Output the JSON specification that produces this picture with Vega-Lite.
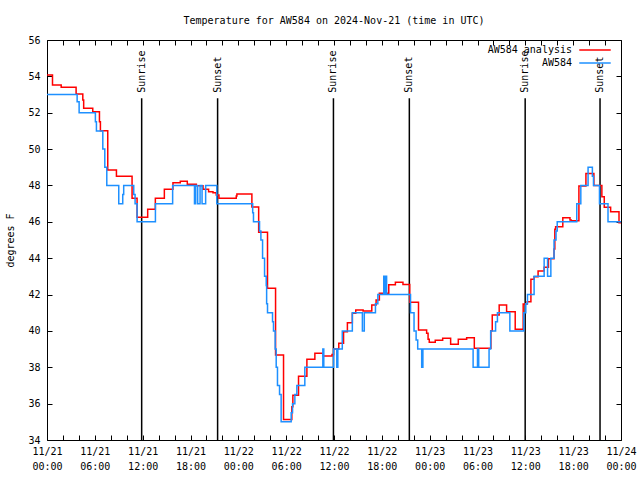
{
  "$schema": "https://vega.github.io/schema/vega-lite/v6.json",
  "width": 574,
  "height": 400,
  "autosize": {"type": "none"},
  "padding": {"left": 47, "top": 40, "right": 19, "bottom": 40},
  "background": "white",
  "title": {"text": "Temperature for AW584 on 2024-Nov-21 (time in UTC)", "font": "DejaVu Sans Mono", "fontSize": 10, "fontWeight": "normal", "color": "black", "offset": 9, "anchor": "middle"},
  "config": {
    "view": {"stroke": "black", "strokeWidth": 1},
    "font": "DejaVu Sans Mono",
    "axis": {"domain": false, "grid": false, "tickColor": "black", "tickWidth": 1, "tickSize": -5, "labelFont": "DejaVu Sans Mono", "labelFontSize": 10, "labelColor": "black", "titleFont": "DejaVu Sans Mono", "titleFontSize": 10, "titleFontWeight": "normal", "titleColor": "black", "labelOverlap": false, "labelFlush": false},
    "legend": {"orient": "none", "legendX": 542, "legendY": 4, "symbolType": "M-3,0H3", "symbolStrokeWidth": 1.5, "symbolSize": 110, "labelFont": "DejaVu Sans Mono", "labelFontSize": 10, "labelColor": "black", "labelAlign": "right", "labelOffset": -29, "rowPadding": 2, "padding": 0}
  },
  "datasets": {
    "analysis": [
      {"hour": 0, "temp": 54.07, "series": "AW584 analysis"},
      {"hour": 0.69, "temp": 53.52, "series": "AW584 analysis"},
      {"hour": 1.78, "temp": 53.4, "series": "AW584 analysis"},
      {"hour": 3.65, "temp": 53.03, "series": "AW584 analysis"},
      {"hour": 4.49, "temp": 52.7, "series": "AW584 analysis"},
      {"hour": 4.6, "temp": 52.24, "series": "AW584 analysis"},
      {"hour": 5.74, "temp": 52.06, "series": "AW584 analysis"},
      {"hour": 6.58, "temp": 51.5, "series": "AW584 analysis"},
      {"hour": 6.7, "temp": 51.01, "series": "AW584 analysis"},
      {"hour": 7.62, "temp": 48.85, "series": "AW584 analysis"},
      {"hour": 8.71, "temp": 48.5, "series": "AW584 analysis"},
      {"hour": 10.67, "temp": 47.3, "series": "AW584 analysis"},
      {"hour": 11.3, "temp": 46.25, "series": "AW584 analysis"},
      {"hour": 12.63, "temp": 46.69, "series": "AW584 analysis"},
      {"hour": 13.59, "temp": 47.29, "series": "AW584 analysis"},
      {"hour": 14.72, "temp": 47.79, "series": "AW584 analysis"},
      {"hour": 15.8, "temp": 48.15, "series": "AW584 analysis"},
      {"hour": 16.72, "temp": 48.23, "series": "AW584 analysis"},
      {"hour": 17.6, "temp": 48.06, "series": "AW584 analysis"},
      {"hour": 18.73, "temp": 47.99, "series": "AW584 analysis"},
      {"hour": 19.57, "temp": 47.79, "series": "AW584 analysis"},
      {"hour": 20.27, "temp": 47.66, "series": "AW584 analysis"},
      {"hour": 20.82, "temp": 47.6, "series": "AW584 analysis"},
      {"hour": 21.23, "temp": 47.47, "series": "AW584 analysis"},
      {"hour": 21.57, "temp": 47.29, "series": "AW584 analysis"},
      {"hour": 23.74, "temp": 47.42, "series": "AW584 analysis"},
      {"hour": 23.82, "temp": 47.53, "series": "AW584 analysis"},
      {"hour": 25.7, "temp": 46.82, "series": "AW584 analysis"},
      {"hour": 26.55, "temp": 45.42, "series": "AW584 analysis"},
      {"hour": 27.66, "temp": 42.34, "series": "AW584 analysis"},
      {"hour": 28.67, "temp": 38.67, "series": "AW584 analysis"},
      {"hour": 29.67, "temp": 35.13, "series": "AW584 analysis"},
      {"hour": 30.71, "temp": 35.83, "series": "AW584 analysis"},
      {"hour": 30.84, "temp": 36.46, "series": "AW584 analysis"},
      {"hour": 31.55, "temp": 37.5, "series": "AW584 analysis"},
      {"hour": 32.6, "temp": 38.44, "series": "AW584 analysis"},
      {"hour": 33.6, "temp": 38.77, "series": "AW584 analysis"},
      {"hour": 34.65, "temp": 38.62, "series": "AW584 analysis"},
      {"hour": 35.75, "temp": 38.7, "series": "AW584 analysis"},
      {"hour": 35.95, "temp": 39.0, "series": "AW584 analysis"},
      {"hour": 36.6, "temp": 39.32, "series": "AW584 analysis"},
      {"hour": 37.2, "temp": 39.96, "series": "AW584 analysis"},
      {"hour": 37.68, "temp": 40.45, "series": "AW584 analysis"},
      {"hour": 38.3, "temp": 40.97, "series": "AW584 analysis"},
      {"hour": 38.73, "temp": 41.15, "series": "AW584 analysis"},
      {"hour": 39.65, "temp": 41.1, "series": "AW584 analysis"},
      {"hour": 40.74, "temp": 41.42, "series": "AW584 analysis"},
      {"hour": 41.28, "temp": 41.7, "series": "AW584 analysis"},
      {"hour": 41.69, "temp": 42.07, "series": "AW584 analysis"},
      {"hour": 42.87, "temp": 42.54, "series": "AW584 analysis"},
      {"hour": 43.7, "temp": 42.67, "series": "AW584 analysis"},
      {"hour": 44.65, "temp": 42.55, "series": "AW584 analysis"},
      {"hour": 45.5, "temp": 41.57, "series": "AW584 analysis"},
      {"hour": 46.6, "temp": 40.05, "series": "AW584 analysis"},
      {"hour": 47.62, "temp": 39.87, "series": "AW584 analysis"},
      {"hour": 47.8, "temp": 39.54, "series": "AW584 analysis"},
      {"hour": 47.95, "temp": 39.37, "series": "AW584 analysis"},
      {"hour": 48.7, "temp": 39.48, "series": "AW584 analysis"},
      {"hour": 49.63, "temp": 39.59, "series": "AW584 analysis"},
      {"hour": 50.63, "temp": 39.26, "series": "AW584 analysis"},
      {"hour": 51.59, "temp": 39.54, "series": "AW584 analysis"},
      {"hour": 52.64, "temp": 39.63, "series": "AW584 analysis"},
      {"hour": 53.6, "temp": 39.04, "series": "AW584 analysis"},
      {"hour": 55.68, "temp": 40.01, "series": "AW584 analysis"},
      {"hour": 55.85, "temp": 40.87, "series": "AW584 analysis"},
      {"hour": 56.72, "temp": 41.42, "series": "AW584 analysis"},
      {"hour": 57.65, "temp": 41.06, "series": "AW584 analysis"},
      {"hour": 58.73, "temp": 40.09, "series": "AW584 analysis"},
      {"hour": 59.73, "temp": 41.48, "series": "AW584 analysis"},
      {"hour": 60.23, "temp": 41.61, "series": "AW584 analysis"},
      {"hour": 60.7, "temp": 42.84, "series": "AW584 analysis"},
      {"hour": 61.1, "temp": 42.98, "series": "AW584 analysis"},
      {"hour": 61.6, "temp": 43.29, "series": "AW584 analysis"},
      {"hour": 62.36, "temp": 43.5, "series": "AW584 analysis"},
      {"hour": 62.9, "temp": 43.97, "series": "AW584 analysis"},
      {"hour": 63.6, "temp": 44.5, "series": "AW584 analysis"},
      {"hour": 63.7, "temp": 45.59, "series": "AW584 analysis"},
      {"hour": 63.8, "temp": 45.73, "series": "AW584 analysis"},
      {"hour": 64.7, "temp": 46.23, "series": "AW584 analysis"},
      {"hour": 65.6, "temp": 46.1, "series": "AW584 analysis"},
      {"hour": 65.75, "temp": 46.06, "series": "AW584 analysis"},
      {"hour": 66.72, "temp": 47.97, "series": "AW584 analysis"},
      {"hour": 67.6, "temp": 48.66, "series": "AW584 analysis"},
      {"hour": 68.6, "temp": 48.0, "series": "AW584 analysis"},
      {"hour": 69.6, "temp": 47.38, "series": "AW584 analysis"},
      {"hour": 69.9, "temp": 46.8, "series": "AW584 analysis"},
      {"hour": 70.7, "temp": 46.55, "series": "AW584 analysis"},
      {"hour": 71.75, "temp": 45.95, "series": "AW584 analysis"},
      {"hour": 72, "temp": 45.95, "series": "AW584 analysis"}
    ],
    "observed": [
      {"hour": 0, "temp": 53, "series": "AW584"},
      {"hour": 3.78, "temp": 52.6, "series": "AW584"},
      {"hour": 4.03, "temp": 52, "series": "AW584"},
      {"hour": 6.07, "temp": 51.5, "series": "AW584"},
      {"hour": 6.2, "temp": 51, "series": "AW584"},
      {"hour": 7.0, "temp": 50, "series": "AW584"},
      {"hour": 7.25, "temp": 49, "series": "AW584"},
      {"hour": 7.5, "temp": 48, "series": "AW584"},
      {"hour": 9.0, "temp": 47, "series": "AW584"},
      {"hour": 9.5, "temp": 47.5, "series": "AW584"},
      {"hour": 9.62, "temp": 48, "series": "AW584"},
      {"hour": 10.88, "temp": 47.5, "series": "AW584"},
      {"hour": 11.05, "temp": 47, "series": "AW584"},
      {"hour": 11.3, "temp": 46, "series": "AW584"},
      {"hour": 13.6, "temp": 47, "series": "AW584"},
      {"hour": 15.76, "temp": 48, "series": "AW584"},
      {"hour": 18.5, "temp": 47, "series": "AW584"},
      {"hour": 18.65, "temp": 48, "series": "AW584"},
      {"hour": 18.9, "temp": 47, "series": "AW584"},
      {"hour": 19.2, "temp": 48, "series": "AW584"},
      {"hour": 19.45, "temp": 47, "series": "AW584"},
      {"hour": 19.9, "temp": 48, "series": "AW584"},
      {"hour": 21.3, "temp": 47, "series": "AW584"},
      {"hour": 25.8, "temp": 46.5, "series": "AW584"},
      {"hour": 25.9, "temp": 46, "series": "AW584"},
      {"hour": 26.66, "temp": 45.5, "series": "AW584"},
      {"hour": 26.83, "temp": 45, "series": "AW584"},
      {"hour": 27.04, "temp": 44, "series": "AW584"},
      {"hour": 27.29, "temp": 43, "series": "AW584"},
      {"hour": 27.5, "temp": 42.5, "series": "AW584"},
      {"hour": 27.55, "temp": 41.5, "series": "AW584"},
      {"hour": 27.66, "temp": 41, "series": "AW584"},
      {"hour": 28.29, "temp": 40.5, "series": "AW584"},
      {"hour": 28.41, "temp": 40, "series": "AW584"},
      {"hour": 28.62, "temp": 39, "series": "AW584"},
      {"hour": 28.75, "temp": 38, "series": "AW584"},
      {"hour": 28.91, "temp": 37, "series": "AW584"},
      {"hour": 29.17, "temp": 36.5, "series": "AW584"},
      {"hour": 29.37, "temp": 35, "series": "AW584"},
      {"hour": 30.63, "temp": 35.5, "series": "AW584"},
      {"hour": 30.8, "temp": 36, "series": "AW584"},
      {"hour": 31.09, "temp": 36.5, "series": "AW584"},
      {"hour": 31.34, "temp": 37, "series": "AW584"},
      {"hour": 32.34, "temp": 38, "series": "AW584"},
      {"hour": 34.6, "temp": 39, "series": "AW584"},
      {"hour": 34.72, "temp": 38, "series": "AW584"},
      {"hour": 35.95, "temp": 39, "series": "AW584"},
      {"hour": 36.35, "temp": 38, "series": "AW584"},
      {"hour": 36.48, "temp": 39, "series": "AW584"},
      {"hour": 37.04, "temp": 40, "series": "AW584"},
      {"hour": 38.3, "temp": 41, "series": "AW584"},
      {"hour": 39.56, "temp": 40, "series": "AW584"},
      {"hour": 39.8, "temp": 41, "series": "AW584"},
      {"hour": 41.2, "temp": 41.5, "series": "AW584"},
      {"hour": 41.5, "temp": 42, "series": "AW584"},
      {"hour": 42.24, "temp": 43, "series": "AW584"},
      {"hour": 42.3, "temp": 42, "series": "AW584"},
      {"hour": 42.47, "temp": 43, "series": "AW584"},
      {"hour": 42.6, "temp": 42, "series": "AW584"},
      {"hour": 45.6, "temp": 41, "series": "AW584"},
      {"hour": 46.04, "temp": 40, "series": "AW584"},
      {"hour": 46.3, "temp": 39.5, "series": "AW584"},
      {"hour": 46.5, "temp": 39, "series": "AW584"},
      {"hour": 47.0, "temp": 38, "series": "AW584"},
      {"hour": 47.15, "temp": 39, "series": "AW584"},
      {"hour": 53.45, "temp": 38, "series": "AW584"},
      {"hour": 54.0, "temp": 39, "series": "AW584"},
      {"hour": 54.15, "temp": 38, "series": "AW584"},
      {"hour": 55.45, "temp": 39, "series": "AW584"},
      {"hour": 55.65, "temp": 40, "series": "AW584"},
      {"hour": 56.27, "temp": 40.5, "series": "AW584"},
      {"hour": 56.5, "temp": 41, "series": "AW584"},
      {"hour": 58.06, "temp": 40, "series": "AW584"},
      {"hour": 59.81, "temp": 41, "series": "AW584"},
      {"hour": 60.06, "temp": 41.5, "series": "AW584"},
      {"hour": 60.27, "temp": 42, "series": "AW584"},
      {"hour": 61.1, "temp": 43, "series": "AW584"},
      {"hour": 62.36, "temp": 44, "series": "AW584"},
      {"hour": 62.79, "temp": 43, "series": "AW584"},
      {"hour": 63.2, "temp": 44, "series": "AW584"},
      {"hour": 63.6, "temp": 45, "series": "AW584"},
      {"hour": 63.85, "temp": 45.5, "series": "AW584"},
      {"hour": 64.0, "temp": 46, "series": "AW584"},
      {"hour": 66.45, "temp": 47, "series": "AW584"},
      {"hour": 66.96, "temp": 48, "series": "AW584"},
      {"hour": 67.87, "temp": 49, "series": "AW584"},
      {"hour": 68.41, "temp": 48.5, "series": "AW584"},
      {"hour": 68.55, "temp": 48, "series": "AW584"},
      {"hour": 69.3, "temp": 47, "series": "AW584"},
      {"hour": 70.37, "temp": 46, "series": "AW584"},
      {"hour": 72, "temp": 46, "series": "AW584"}
    ],
    "sun": [
      {"hour": 11.875, "event": "Sunrise"},
      {"hour": 21.4, "event": "Sunset"},
      {"hour": 35.93, "event": "Sunrise"},
      {"hour": 45.45, "event": "Sunset"},
      {"hour": 59.98, "event": "Sunrise"},
      {"hour": 69.37, "event": "Sunset"}
    ]
  },
  "layer": [
    {
      "data": {"name": "sun"},
      "mark": {"type": "rule", "color": "black", "strokeWidth": 1.5},
      "encoding": {
        "x": {"field": "hour", "type": "quantitative", "scale": {"domain": [0, 72], "nice": false, "zero": false},
              "axis": {"orient": "bottom", "values": [0,2,4,6,8,10,12,14,16,18,20,22,24,26,28,30,32,34,36,38,40,42,44,46,48,50,52,54,56,58,60,62,64,66,68,70,72],
                       "labelExpr": "datum.value % 6 === 0 ? ['11/' + (21 + floor(datum.value / 24)), (datum.value % 24 < 10 ? '0' : '') + (datum.value % 24) + ':00'] : ''",
                       "title": null, "labelPadding": 11, "labelLineHeight": 15, "labelBaseline": "top"}},
        "y": {"datum": 52.8, "type": "quantitative", "scale": {"domain": [34, 56], "nice": false, "zero": false},
              "axis": {"orient": "left", "values": [34,36,38,40,42,44,46,48,50,52,54,56], "title": "degrees F", "titlePadding": 12, "labelPadding": 12}},
        "y2": {"datum": 34}
      }
    },
    {
      "data": {"name": "sun"},
      "mark": {"type": "text", "angle": 270, "align": "left", "baseline": "middle", "font": "DejaVu Sans Mono", "fontSize": 10, "color": "black"},
      "encoding": {
        "x": {"field": "hour", "type": "quantitative", "scale": {"domain": [0, 72], "nice": false, "zero": false}, "axis": null},
        "y": {"datum": 53.1, "type": "quantitative", "axis": null},
        "text": {"field": "event"}
      }
    },
    {
      "data": {"name": "analysis"},
      "mark": {"type": "line", "interpolate": "step-after", "strokeWidth": 1.5},
      "encoding": {
        "x": {"field": "hour", "type": "quantitative", "axis": null},
        "y": {"field": "temp", "type": "quantitative", "axis": null},
        "color": {"field": "series", "type": "nominal", "scale": {"domain": ["AW584 analysis", "AW584"], "range": ["#ff0000", "#1e90ff"]}, "legend": {"title": null}}
      }
    },
    {
      "data": {"name": "observed"},
      "mark": {"type": "line", "interpolate": "step-after", "strokeWidth": 1.5},
      "encoding": {
        "x": {"field": "hour", "type": "quantitative",
              "axis": {"orient": "top", "values": [0,2,4,6,8,10,12,14,16,18,20,22,24,26,28,30,32,34,36,38,40,42,44,46,48,50,52,54,56,58,60,62,64,66,68,70,72], "labels": false, "title": null}},
        "y": {"field": "temp", "type": "quantitative",
              "axis": {"orient": "right", "values": [34,36,38,40,42,44,46,48,50,52,54,56], "labels": false, "title": null}},
        "color": {"field": "series", "type": "nominal", "legend": {"title": null}}
      }
    }
  ],
  "resolve": {"axis": {"x": "independent", "y": "independent"}}
}
